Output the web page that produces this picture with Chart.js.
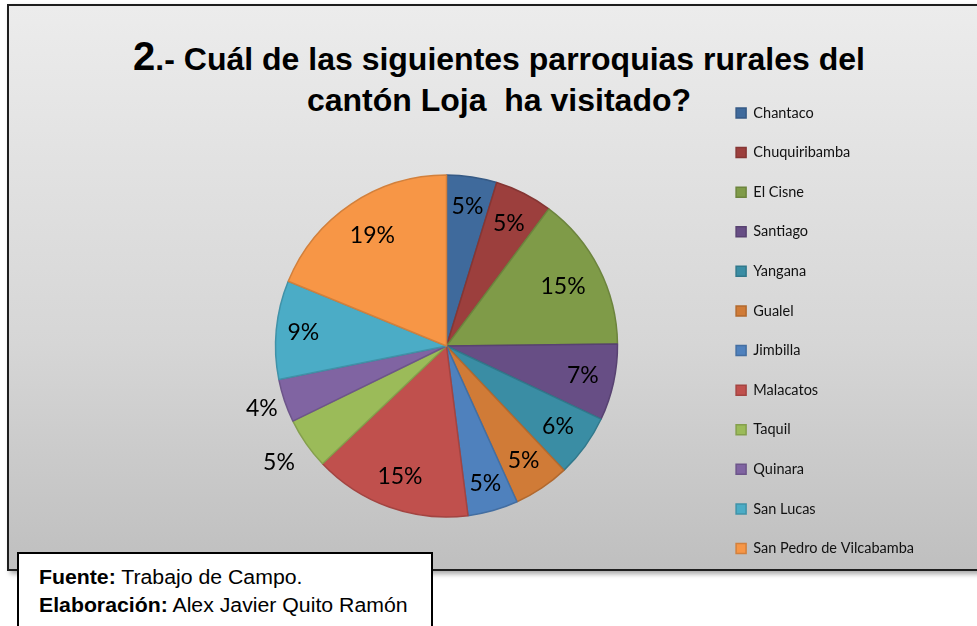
<!DOCTYPE html>
<html>
<head>
<meta charset="utf-8">
<script src="https://cdn.jsdelivr.net/npm/chart.js@4.4.1/dist/chart.umd.min.js"></script>
<style>
  html,body{margin:0;padding:0;width:977px;height:626px;overflow:hidden;background:#fff;}
  #frame{position:absolute;left:7px;top:4px;width:990px;height:563px;border:2px solid #1e1e1e;
    background:linear-gradient(to bottom,#ececec 0%,#d6d6d6 60%,#bfbfbf 100%);
    box-shadow:3px 3px 5px rgba(0,0,0,0.35);}
  .tl{position:absolute;left:0;width:998px;text-align:center;font-family:"Liberation Sans",Arial,sans-serif;
    font-weight:bold;color:#000;font-size:32px;line-height:32px;white-space:nowrap;}
  .tl .big{font-size:40px;}
  #wrap{position:absolute;left:0;top:0;width:977px;height:626px;}
  #note{position:absolute;left:17px;top:552px;width:412px;height:90px;border:2px solid #000;background:#fff;
    font-family:"Liberation Sans",Arial,sans-serif;font-size:19.5px;line-height:19.5px;color:#000;}
  #note div{position:absolute;left:20px;white-space:nowrap;transform:scaleX(1.09);transform-origin:0 0;}
</style>
</head>
<body>
<div id="frame"></div>
<div class="tl" style="top:40px"><span class="big">2</span>.- Cuál de las siguientes parroquias rurales del</div>
<div class="tl" style="top:84px">cantón Loja&nbsp; ha visitado?</div>
<div id="wrap"><canvas id="c" width="977" height="626"></canvas></div>
<div id="note">
  <div style="top:13.5px"><b>Fuente:</b> Trabajo de Campo.</div>
  <div style="top:42px"><b>Elaboración:</b> Alex Javier Quito Ramón</div>
</div>
<script>
// ---- data ----
const categories = ["Chantaco","Chuquiribamba","El Cisne","Santiago","Yangana","Gualel","Jimbilla","Malacatos","Taquil","Quinara","San Lucas","San Pedro de Vilcabamba"];
const values = [4.74, 5.45, 14.6, 7.2, 5.9, 5.3, 4.75, 14.9, 4.85, 4.1, 9.3, 18.8];
const sliceColors = ["#3F6A9C","#9C3F3D","#7F9B48","#674E85","#3A8DA4","#D07B37","#4F81BD","#C0504D","#9BBB59","#8064A2","#4BACC6","#F79646"];

function darken(hex, f){
  const n=parseInt(hex.slice(1),16);
  const r=Math.round(((n>>16)&255)*f), g=Math.round(((n>>8)&255)*f), b=Math.round((n&255)*f);
  return "rgb("+r+","+g+","+b+")";
}
const borderColors = sliceColors.map(c=>darken(c,0.85));

// per-slice label radius factor (layout only)
const labelRadius = [0.826,0.805,0.765,0.816,0.805,0.809,0.834,0.81,1.193,1.14,0.841,0.778];

const pctLabels = {
  id:'pctLabels',
  afterDatasetsDraw(chart){
    const ctx=chart.ctx;
    const meta=chart.getDatasetMeta(0);
    const total=values.reduce((a,b)=>a+b,0);
    ctx.save();
    ctx.font='23px Lato, "Open Sans", sans-serif';
    ctx.fillStyle='#000';
    ctx.textAlign='center';
    ctx.textBaseline='middle';
    meta.data.forEach((arc,i)=>{
      const p=arc.getProps(['x','y','startAngle','endAngle','outerRadius'],true);
      const mid=(p.startAngle+p.endAngle)/2;
      const r=p.outerRadius*labelRadius[i];
      const txt=Math.round(values[i]/total*100)+'%';
      ctx.fillText(txt,p.x+Math.cos(mid)*r,p.y+Math.sin(mid)*r);
    });
    ctx.restore();
  }
};

const CX=446.5, CY=346, LEGEND_LEFT=711, PAD_TOP=80.6;
const chart=new Chart(document.getElementById('c'),{
  type:'pie',
  data:{labels:categories,datasets:[{data:values,backgroundColor:sliceColors,borderColor:borderColors,borderWidth:1.5,radius:171}]},
  options:{
    responsive:false,animation:false,
    layout:{padding:{left:2*CX-LEGEND_LEFT,right:60,top:PAD_TOP,bottom:626-2*CY+PAD_TOP}},
    plugins:{
      tooltip:{enabled:false},
      title:{display:false},
      legend:{position:'right',align:'start',
        labels:{boxWidth:10,boxHeight:10,padding:25.1,color:'#111',
          font:{family:'Lato, "Open Sans", sans-serif',size:14.5}}}
    }
  },
  plugins:[pctLabels]
});
// align legend so its items begin at the reference position
const lw=chart.legend.width;
chart.options.layout.padding.right=977-LEGEND_LEFT-lw;
chart.update();
</script>
</body>
</html>
